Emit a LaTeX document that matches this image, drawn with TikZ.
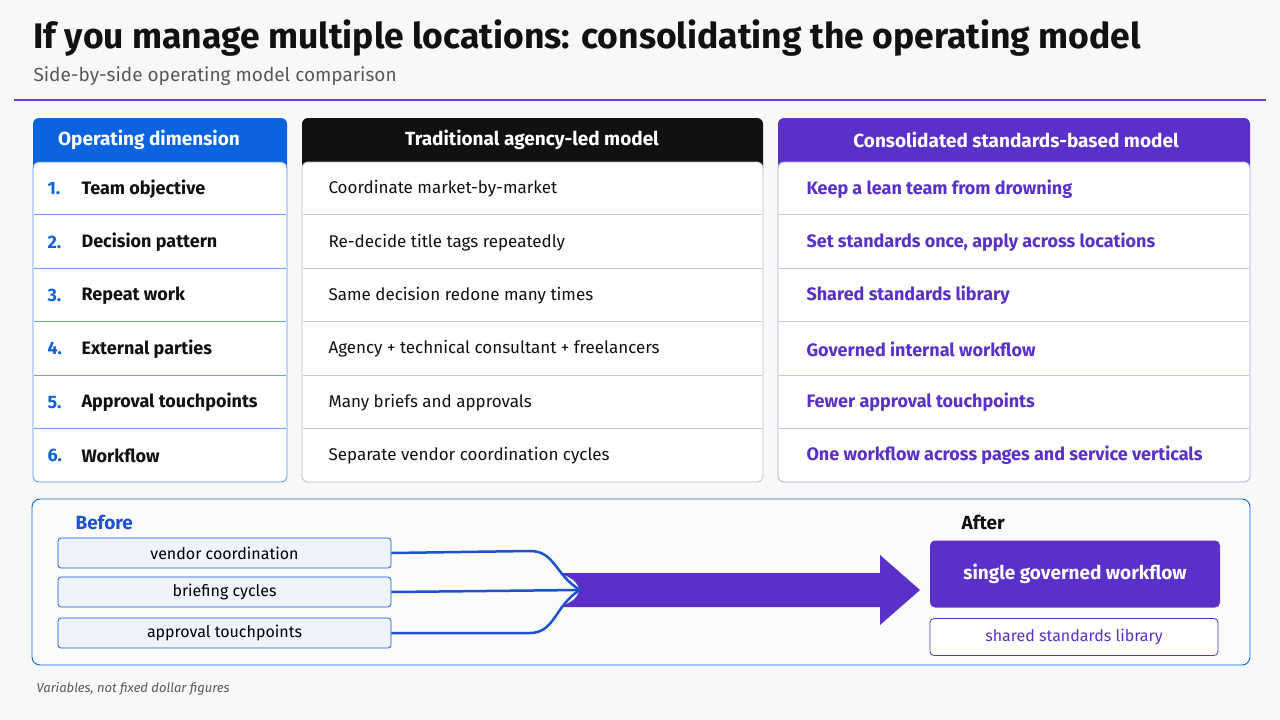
\documentclass[tikz,border=0pt]{standalone}
\usepackage{fontspec}
\setmainfont{Fira Sans}
\usetikzlibrary{positioning,arrows.meta}
\definecolor{ink}{HTML}{111111}
\definecolor{opblue}{HTML}{0B63E0}
\definecolor{dimblue}{HTML}{1C52D0}
\definecolor{conpurple}{HTML}{5B2FC9}
\definecolor{rule}{HTML}{6A3BD6}
\definecolor{soft}{HTML}{EEF3FC}
\definecolor{panel}{HTML}{F7F8FA}
\tikzset{
  head/.style={rounded corners=6pt,text=white,font=\bfseries\fontsize{19}{22}\selectfont},
  body/.style={draw=#1,fill=white,rounded corners=6pt,line width=0.8pt},
  cell/.style={anchor=west,font=\fontsize{17}{20}\selectfont,text=ink},
  pill/.style={draw=dimblue,fill=soft,rounded corners=3pt,minimum width=333pt,minimum height=30pt,font=\fontsize{16}{19}\selectfont,line width=0.7pt},
}
\begin{document}
\begin{tikzpicture}[x=1pt,y=-1pt]
\useasboundingbox[fill=panel] (0,0) rectangle (1280,720);
% title
\node[anchor=west,font=\bfseries\fontsize{35.5}{40}\selectfont,text=ink] (title) at (30,38) {If you manage multiple locations: consolidating the operating model};
\node[anchor=west,font=\fontsize{19}{22}\selectfont,text=black!65] (sub) at (30,76) {Side-by-side operating model comparison};
\draw[rule,line width=1.5pt] (14,100) -- (1266,100);
% columns
\fill[opblue,rounded corners=6pt] (33,118) rectangle (287,175);
\fill[ink,rounded corners=6pt] (302,118) rectangle (763,175);
\fill[conpurple,rounded corners=6pt] (778,118) rectangle (1250,175);
\node[head] (h1) at (149,140) {Operating dimension};
\node[head] (h2) at (532,140) {Traditional agency-led model};
\node[head] (h3) at (1016,140) {Consolidated standards-based model};
\draw[body=opblue!70] (33,162) rectangle (287,482);
\draw[body=black!25] (302,162) rectangle (763,482);
\draw[body=conpurple!45] (778,162) rectangle (1250,482);
\foreach \y in {214,268,321,375,428}{
  \draw[opblue!60] (34,\y) -- (286,\y);
  \draw[black!20] (303,\y) -- (762,\y);
  \draw[conpurple!30] (779,\y) -- (1249,\y);
}
\foreach \i/\dim/\old/\new [count=\k from 0] in {
  1/Team objective/Coordinate market-by-market/Keep a lean team from drowning,
  2/Decision pattern/Re-decide title tags repeatedly/{Set standards once, apply across locations},
  3/Repeat work/Same decision redone many times/Shared standards library,
  4/External parties/Agency + technical consultant + freelancers/Governed internal workflow,
  5/Approval touchpoints/Many briefs and approvals/Fewer approval touchpoints,
  6/Workflow/Separate vendor coordination cycles/One workflow across pages and service verticals}{
  \pgfmathsetmacro{\yy}{189+53.3*\k}
  \node[cell,text=opblue,font=\bfseries\fontsize{18}{20}\selectfont] (n\i) at (44,\yy) {\i.};
  \node[cell,font=\bfseries\fontsize{18}{20}\selectfont] (d\i) at (78,\yy) {\dim};
  \node[cell] (o\i) at (325,\yy) {\old};
  \node[cell,text=conpurple,font=\bfseries\fontsize{18}{20}\selectfont] (c\i) at (803,\yy) {\new};
}
% before / after
\draw[opblue,fill=white!50!panel,rounded corners=8pt,line width=0.9pt] (32,499) rectangle (1250,665);
\node[anchor=west,text=dimblue,font=\bfseries\fontsize{19}{22}\selectfont] (before) at (72,522) {Before};
\node[anchor=west,text=ink,font=\bfseries\fontsize{19}{22}\selectfont] (after) at (958,522) {After};
\node[pill] (p1) at (224.5,553) {vendor coordination};
\node[pill] (p2) at (224.5,592) {briefing cycles};
\node[pill] (p3) at (224.5,633) {approval touchpoints};
\node[fill=conpurple,rounded corners=5pt,minimum width=290pt,minimum height=67pt,text=white,font=\bfseries\fontsize{19}{22}\selectfont] (flow) at (1075,574) {single governed workflow};
\node[draw=conpurple,fill=white,rounded corners=4pt,minimum width=288pt,minimum height=37pt,text=conpurple,font=\fontsize{16}{19}\selectfont,line width=0.8pt] (lib) at (1074,637) {shared standards library};
\coordinate (join) at (580,590);
\fill[conpurple] (560,573) -- (880,573) -- (880,555) -- (920,590) -- (880,625) -- (880,607) -- (560,607) .. controls (575,600) .. (join) .. controls (575,580) .. cycle;
\draw[dimblue,line width=2.5pt] (p1.east) -- (530,551) .. controls (555,551) and (555,575) .. (join);
\draw[dimblue,line width=2.5pt] (p2.east) -- (join);
\draw[dimblue,line width=2.5pt] (p3.east) -- (530,633) .. controls (555,633) and (555,605) .. (join);
\node[anchor=west,text=black!65,font=\itshape\fontsize{13}{15}\selectfont] (note) at (33,689) {Variables, not fixed dollar figures};
\end{tikzpicture}
\end{document}
